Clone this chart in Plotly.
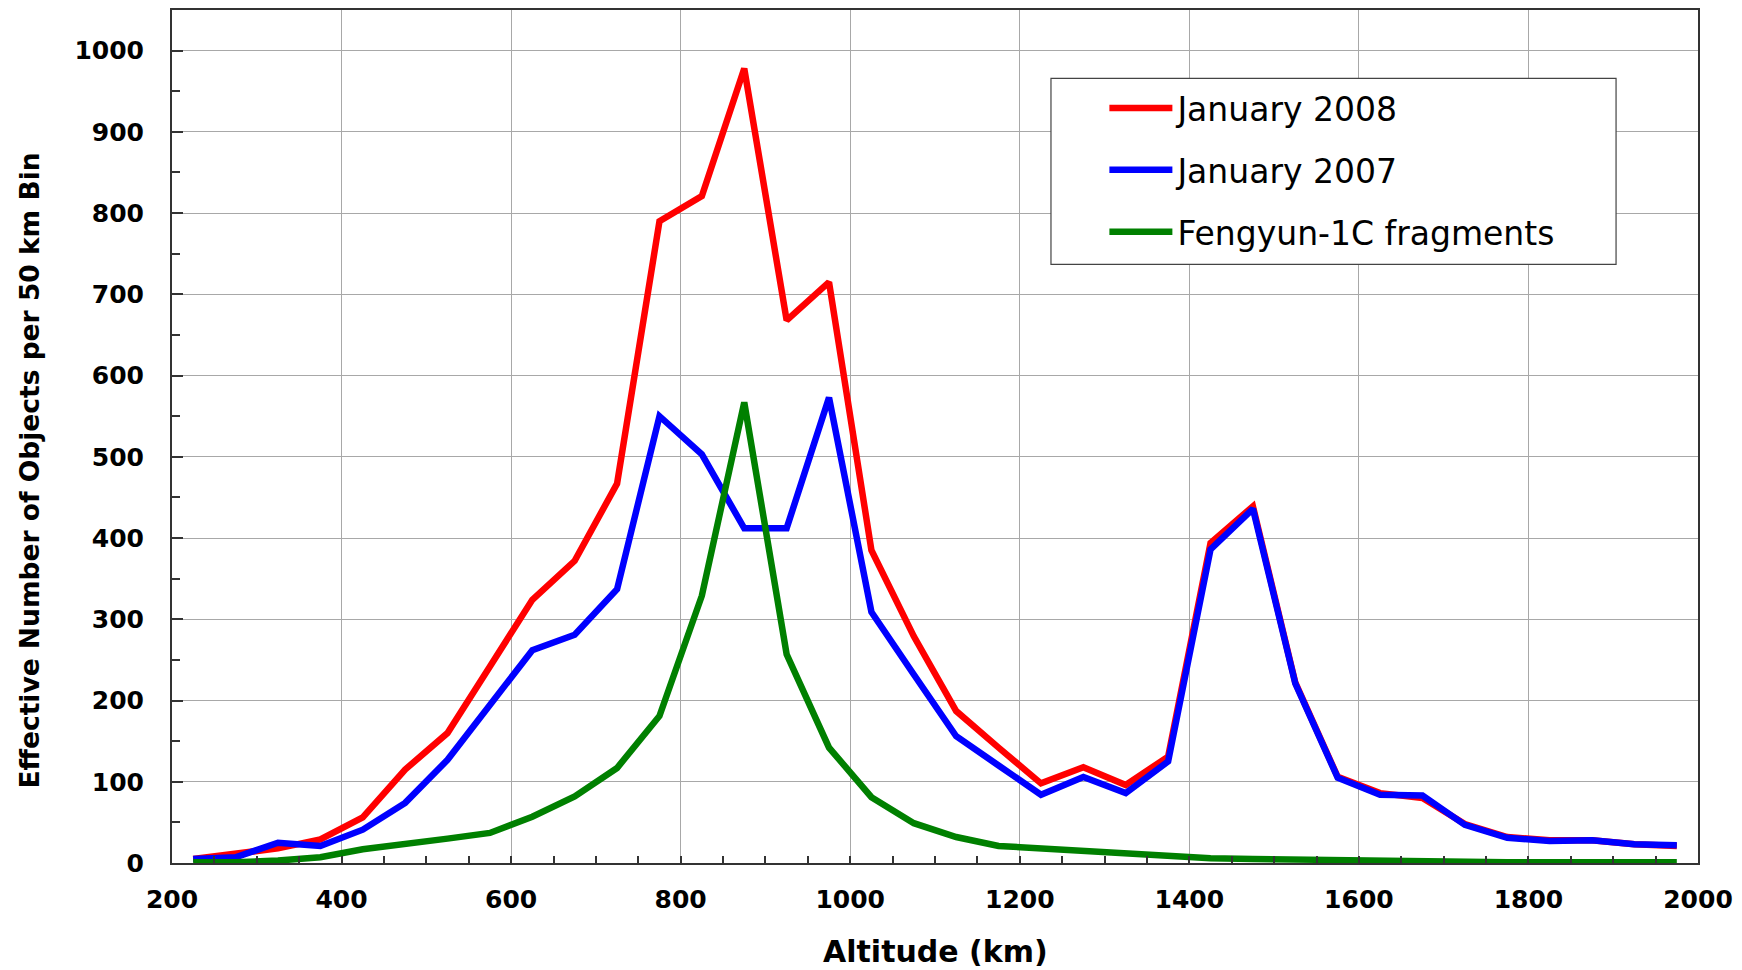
import plotly.graph_objects as go

altitude_km = [225, 275, 325, 375, 425, 475, 525, 575, 625, 675, 725, 775,
               825, 875, 925, 975, 1025, 1075, 1125, 1175, 1225, 1275, 1325, 1375,
               1425, 1475, 1525, 1575, 1625, 1675, 1725, 1775, 1825, 1875, 1925, 1975]

jan_2008 = [5, 11, 18, 29, 56, 115, 160, 242, 324, 372, 467, 790,
            821, 978, 668, 715, 385, 279, 187, 142, 98, 118, 96, 131,
            394, 439, 222, 106, 86, 80, 48, 32, 28, 28, 23, 21]

jan_2007 = [5, 7, 25, 21, 41, 74, 127, 195, 262, 281, 337, 550,
            503, 412, 412, 573, 309, 232, 156, 120, 84, 106, 86, 125,
            386, 436, 221, 105, 84, 83, 47, 31, 27, 28, 23, 22]

fengyun_1c = [1, 1, 3, 7, 17, 23, 30, 37, 57, 82, 117, 181,
              329, 567, 257, 142, 81, 49, 32, 21, 18, 14, 12, 8,
              6, 5, 4, 3, 2, 1, 1, 1, 1, 1, 1, 1]

series_names = ["January 2008", "January 2007", "Fengyun-1C fragments"]
series_colors = ["#ff0000", "#0000ff", "#008000"]
x_tick_values = [200, 400, 600, 800, 1000, 1200, 1400, 1600, 1800, 2000]
y_tick_values = [0, 100, 200, 300, 400, 500, 600, 700, 800, 900, 1000]
x_title = "Altitude (km)"
y_title = "Effective Number of Objects per 50 km Bin"

fig = go.Figure()
for name, vals, col in zip(series_names, [jan_2008, jan_2007, fengyun_1c], series_colors):
    fig.add_trace(go.Scatter(
        x=altitude_km, y=vals, name=name, mode="lines",
        line=dict(color=col, width=6.5),
        legendgroup=name,
    ))

bold = dict(family="DejaVu Sans", size=25, color="black", weight="bold")

fig.update_layout(
    width=1742, height=970,
    margin=dict(l=172, r=44, t=9.5, b=106.5, autoexpand=False),
    paper_bgcolor="white", plot_bgcolor="white",
    showlegend=True,
    legend=dict(
        x=0.611, y=0.918, xanchor="left", yanchor="top",
        bgcolor="rgba(0,0,0,0)", borderwidth=0,
        font=dict(family="DejaVu Sans", size=33, color="black"),
        traceorder="grouped", tracegroupgap=16,
        itemwidth=63,
    ),
    shapes=[dict(
        type="rect", xref="paper", yref="paper",
        x0=0.576, x1=0.9463, y0=0.7018, y1=0.9199,
        line=dict(color="#444444", width=1.2), fillcolor="white", layer="above",
    )],
    annotations=[
        dict(
            text=y_title, textangle=-90, showarrow=False,
            xref="paper", yref="paper", x=-0.0936, y=0.4602,
            xanchor="center", yanchor="middle",
            font=dict(family="DejaVu Sans", size=26.5, color="black", weight="bold"),
        ),
        dict(
            text=x_title, showarrow=False,
            xref="paper", yref="paper", x=0.5, y=-0.1036,
            xanchor="center", yanchor="middle",
            font=dict(family="DejaVu Sans", size=30, color="black", weight="bold"),
        ),
    ],
)

fig.update_xaxes(
    range=[200, 2000], tickvals=x_tick_values,
    showgrid=True, gridcolor="#a8a8a8", gridwidth=1,
    showline=True, linecolor="#333333", linewidth=2, mirror=True,
    ticks="inside", ticklen=7, tickcolor="#333333", tickwidth=1.5,
    minor=dict(dtick=50, ticks="inside", ticklen=7, tickcolor="#333333", showgrid=False),
    tickfont=bold, ticklabelstandoff=13,
    zeroline=False,
)
fig.update_yaxes(
    range=[0, 1050], tickvals=y_tick_values,
    showgrid=True, gridcolor="#a8a8a8", gridwidth=1,
    showline=True, linecolor="#333333", linewidth=2, mirror=True,
    ticks="inside", ticklen=11, tickcolor="#333333", tickwidth=1.5,
    minor=dict(dtick=50, ticks="inside", ticklen=8, tickcolor="#333333", showgrid=False),
    tickfont=bold, ticklabelstandoff=21,
    zeroline=False,
)

fig.write_html("out.html", config={"displayModeBar": False},
               post_script="document.body.style.margin = '0';")
